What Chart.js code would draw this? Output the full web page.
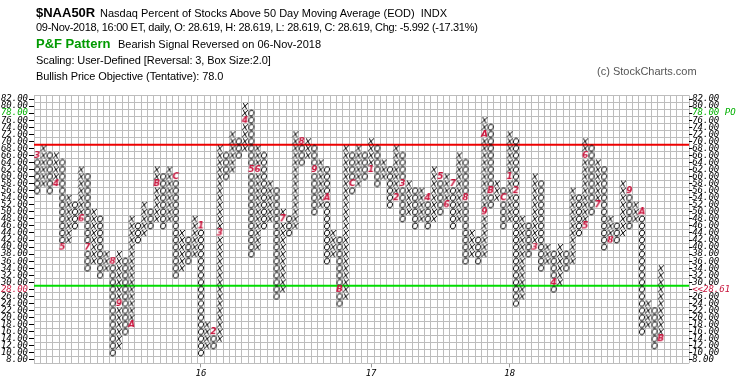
<!DOCTYPE html>
<html><head><meta charset="utf-8">
<script src="https://cdn.jsdelivr.net/npm/chart.js@4.4.1/dist/chart.umd.min.js"></script>
<style>
html,body{margin:0;padding:0;background:#fff;}
#wrap{position:relative;width:745px;height:383px;overflow:hidden;font-family:"Liberation Sans",Arial,sans-serif;}
#c{position:absolute;left:0;top:0;}
.t{position:absolute;white-space:nowrap;color:#000;font-size:11px;line-height:11px;}
.b{font-weight:bold;font-size:13px;line-height:13px;}
</style></head><body>
<div id="wrap">
<canvas id="c" width="745" height="383"></canvas>
<div class="t b" style="left:36px;top:5.6px;">$NAA50R</div>
<div class="t" style="left:100px;top:7.7px;">Nasdaq Percent of Stocks Above 50 Day Moving Average (EOD)&nbsp;&nbsp;INDX</div>
<div class="t" style="left:36px;top:21.7px;letter-spacing:-0.3px;">09-Nov-2018, 16:00 ET, daily, O: 28.619, H: 28.619, L: 28.619, C: 28.619, Chg: -5.992 (-17.31%)</div>
<div class="t b" style="left:36px;top:37px;color:#009a00;">P&amp;F Pattern</div>
<div class="t" style="left:118px;top:38.7px;">Bearish Signal Reversed on 06-Nov-2018</div>
<div class="t" style="left:36px;top:55.3px;letter-spacing:-0.1px;">Scaling: User-Defined [Reversal: 3, Box Size:2.0]</div>
<div class="t" style="left:36px;top:70.7px;letter-spacing:-0.1px;">Bullish Price Objective (Tentative): 78.0</div>
<div class="t" style="left:597px;top:65.7px;color:#555;">(c) StockCharts.com</div>
</div>
<script>
// ---------- data ----------
const COL_TYPE = "OXOXOXOXOXOXOXOXOXOXOXOXOXOXOXOXOXOXOXOXOXOXOXOXOXOXOXOXOXOXOXOXOXOXOXOXOXOXOXOXOXOXOXOXOXOXOXOXOXOX";
const COL_BOTTOM = [56,58,56,58,40,42,46,48,34,36, 32,34,10,12,16,18,42,44,46,48, 46,48,32,34,36,38,10,12,12,14,
                    60,62,66,68,38,40,46,48,26,28, 44,46,64,66,50,52,36,38,24,26, 56,58,60,62,58,60,52,54,48,50,
                    46,48,46,48,50,52,46,48,36,38, 36,38,52,54,46,48,24,26,38,40, 34,36,28,30,34,36,44,46,50,52,
                    40,42,42,44,46,48,16,18,12,14];
const COL_TOP    = [66,68,66,66,64,54,52,62,60,50, 48,38,36,38,36,48,46,52,50,62, 60,62,60,44,42,48,46,18,16,68,
                    66,72,70,80,78,68,66,58,56,50, 48,72,70,70,68,64,62,44,42,68, 66,68,66,70,68,64,62,68,66,58,
                    56,56,54,62,60,60,58,66,64,44, 42,76,74,58,56,72,70,48,46,60, 58,40,38,40,38,56,54,70,68,64,
                    62,48,46,58,56,52,50,24,22,34];
// month markers: [column, box, month code]
const MONTH_MARKS = [[0,66,'3'],[3,58,'4'],[4,40,'5'],[7,48,'6'],[8,40,'7'],[12,36,'8'],[13,24,'9'],[15,18,'A'],
  [19,58,'B'],[22,60,'C'],[26,46,'1'],[28,16,'2'],[29,44,'3'],[33,76,'4'],[34,62,'5'],[35,62,'6'],[39,48,'7'],
  [42,70,'8'],[44,62,'9'],[46,54,'A'],[48,28,'B'],[50,58,'C'],[53,62,'1'],[57,54,'2'],[58,58,'3'],[62,54,'4'],
  [64,60,'5'],[65,52,'6'],[66,58,'7'],[68,54,'8'],[71,50,'9'],[71,72,'A'],[72,56,'B'],[74,54,'C'],[75,60,'1'],
  [76,56,'2'],[79,40,'3'],[82,30,'4'],[87,46,'5'],[87,66,'6'],[89,52,'7'],[91,42,'8'],[94,56,'9'],[96,50,'A'],[99,14,'B']];
const YEAR_COLS = [26,53,75];
const YEAR_LABELS = ['16','17','18'];
const PRICE_LABELS = [82,80,78,76,74,72,70,68,66,64,62,60,58,56,54,52,50,48,46,44,42,40,38,36,34,32,30,28,26,24,22,20,18,16,14,12,10,8];
const BOX = 2;
const NCOLS = 104;
const RESIST_LEVEL = 70;      // red line
const LAST_PRICE = 28.61;     // green line
const OBJECTIVE = 78;

// ---------- glyphs ----------
function glyph(w,h,draw){const c=document.createElement('canvas');c.width=w;c.height=h;draw(c.getContext('2d'));return c;}
const XG = glyph(8,8,g=>{g.strokeStyle='#000';g.lineWidth=1;g.beginPath();g.moveTo(2.2,1);g.lineTo(5.6,7);g.moveTo(7,1);g.lineTo(0.8,7);g.stroke();});
const OG = glyph(8,8,g=>{g.strokeStyle='#000';g.lineWidth=1;g.beginPath();g.ellipse(4,4,2.5,3,0.35,0,Math.PI*2);g.stroke();});
const markCache = {};
function markG(ch){ if(!markCache[ch]) markCache[ch]=glyph(9,9,g=>{g.fillStyle='#c8143c';g.font='italic bold 9px "DejaVu Sans"';g.textAlign='center';g.textBaseline='middle';g.fillText(ch,4.5,5);}); return markCache[ch]; }

const xs=[], os=[], ms=[];
const markAt = {};
MONTH_MARKS.forEach(([c,v,m])=>{markAt[c+'_'+v]=m;});
for(let i=0;i<COL_TOP.length;i++){
  for(let v=COL_BOTTOM[i]; v<=COL_TOP[i]; v+=BOX){
    const m = markAt[i+'_'+v];
    if(m) ms.push({x:i,y:v,m:m});
    else if(COL_TYPE[i]==='X') xs.push({x:i,y:v}); else os.push({x:i,y:v});
  }
}
const boxLine = p => BOX*Math.ceil(p/BOX) - BOX/2;  // box boundary used for a level line

const colBounds = []; for(let i=0;i<=NCOLS;i++) colBounds.push(i-0.5);
const rowBounds = []; for(let v=7; v<=83; v+=BOX) rowBounds.push(v);
const GRID='#bdbdbd';
const labFont = {family:'"DejaVu Sans Mono"', size:9, style:'italic'};
const hiCol = v => v===OBJECTIVE?'#00b000':(v===BOX*Math.floor(LAST_PRICE/BOX)?'#c8143c':'#000');

new Chart(document.getElementById('c'),{
  type:'scatter',
  data:{datasets:[
    {data:ms, pointStyle:ctx=>markG(ctx.raw? ctx.raw.m : '1'), pointRadius:3, xAxisID:'x', yAxisID:'y'},
    {data:xs, pointStyle:XG, pointRadius:3, xAxisID:'x', yAxisID:'y'},
    {data:os, pointStyle:OG, pointRadius:3, xAxisID:'x', yAxisID:'y'},
    {data:[{x:-0.5,y:boxLine(RESIST_LEVEL)},{x:NCOLS-0.5,y:boxLine(RESIST_LEVEL)}], showLine:true, borderColor:'#ee0000', borderWidth:2, pointRadius:0, xAxisID:'x', yAxisID:'y'},
    {data:[{x:-0.5,y:boxLine(LAST_PRICE)},{x:NCOLS-0.5,y:boxLine(LAST_PRICE)}], showLine:true, borderColor:'#00dd00', borderWidth:2, pointRadius:0, xAxisID:'x', yAxisID:'y'}
  ]},
  options:{
    responsive:false, devicePixelRatio:1, animation:false, events:[],
    layout:{padding:{top:95.5,left:0,right:0,bottom:0}},
    plugins:{legend:{display:false},tooltip:{enabled:false},title:{display:false}},
    scales:{
      x:{type:'linear',position:'bottom',min:-0.5,max:NCOLS-0.5,
         afterBuildTicks:s=>{s.ticks=colBounds.map(v=>({value:v}));},
         ticks:{display:false}, grid:{color:GRID,drawTicks:false,lineWidth:1}, border:{display:false},
         afterFit:s=>{s.height=0;}},
      xYear:{type:'linear',position:'bottom',min:-0.5,max:NCOLS-0.5,
         afterBuildTicks:s=>{s.ticks=YEAR_COLS.map(v=>({value:v}));},
         ticks:{callback:v=>YEAR_LABELS[YEAR_COLS.indexOf(v)],font:labFont,color:'#000',padding:1,maxRotation:0,autoSkip:false},
         grid:{drawOnChartArea:false,tickLength:4,color:'#999'}, border:{display:false},
         afterFit:s=>{s.height=19.6;}},
      y:{type:'linear',position:'left',min:7,max:83,
         afterBuildTicks:s=>{s.ticks=rowBounds.map(v=>({value:v}));},
         ticks:{display:false}, grid:{color:GRID,drawTicks:false,lineWidth:1}, border:{display:false},
         afterFit:s=>{s.width=0;}},
      yL:{type:'linear',position:'left',min:7,max:83,
         afterBuildTicks:s=>{s.ticks=PRICE_LABELS.map(v=>({value:v}));},
         ticks:{callback:v=>v.toFixed(2),font:labFont,padding:1,autoSkip:false,color:c=>hiCol(c.tick.value)},
         grid:{drawOnChartArea:false,tickLength:5,color:'#000'}, border:{display:false},
         afterFit:s=>{s.width=34;}},
      yR:{type:'linear',position:'right',min:7,max:83,
         afterBuildTicks:s=>{s.ticks=PRICE_LABELS.map(v=>({value:v}));},
         ticks:{callback:v=>v===OBJECTIVE?v.toFixed(2)+' PO':(v===BOX*Math.floor(LAST_PRICE/BOX)?'<<'+LAST_PRICE.toFixed(2):v.toFixed(2)),
                font:labFont,padding:0,autoSkip:false,color:c=>hiCol(c.tick.value)},
         grid:{drawOnChartArea:false,tickLength:3,color:'#000'}, border:{display:false},
         afterFit:s=>{s.width=745-689.2;}}
    }
  }
});
</script>
</body></html>
